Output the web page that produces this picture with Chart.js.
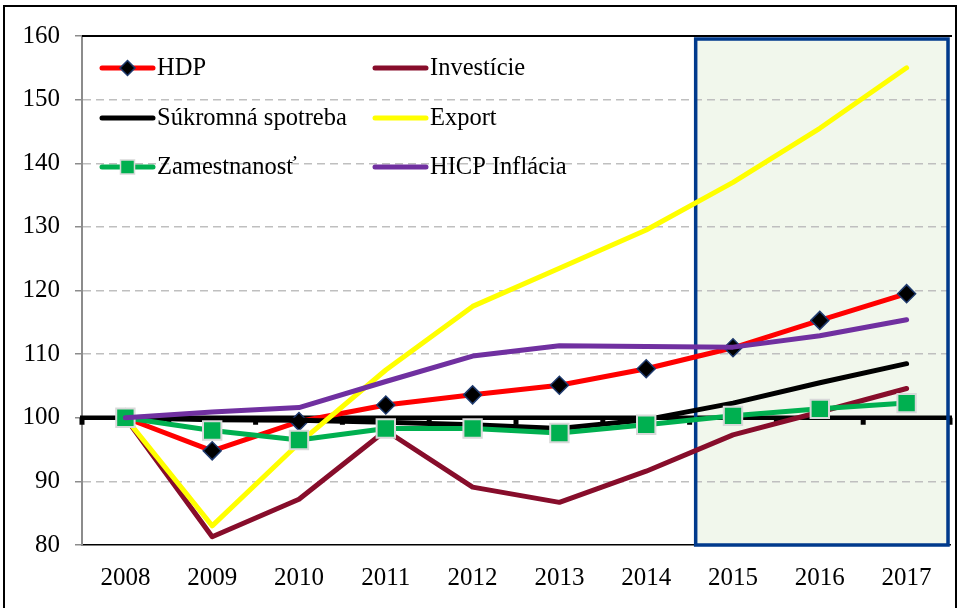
<!DOCTYPE html>
<html>
<head>
<meta charset="utf-8">
<script src="https://cdn.jsdelivr.net/npm/chart.js@4.4.1/dist/chart.umd.min.js"></script>
<style>
html, body { margin: 0; padding: 0; background: #fff; overflow: hidden; }
#wrap { position: relative; width: 959px; height: 608px; overflow: hidden; }
#frame { position: absolute; left: 3px; top: 5px; width: 954px; height: 700px; border: 2px solid #000; box-sizing: border-box; pointer-events: none; }
</style>
</head>
<body>
<div id="wrap">
  <canvas id="mycanvas" width="959" height="608"></canvas>
  <div id="frame"></div>
</div>
<script>
// data (index, 2008 = 100)
var years = ['2008', '2009', '2010', '2011', '2012', '2013', '2014', '2015', '2016', '2017'];
var hdp        = [100, 94.8, 99.4, 102.0, 103.6, 105.1, 107.7, 111.0, 115.3, 119.5];
var investicie = [100, 81.3, 87.2, 98.0, 89.1, 86.7, 91.6, 97.3, 100.9, 104.6];
var spotreba   = [100, 99.7, 99.6, 99.3, 98.9, 98.3, 99.7, 102.3, 105.5, 108.5];
var exportData = [100, 83.0, 96.0, 107.5, 117.5, 123.5, 129.5, 137.0, 145.5, 155.0];
var zamest     = [100, 98.0, 96.5, 98.3, 98.3, 97.6, 98.9, 100.3, 101.4, 102.3];
var hicp       = [100, 100.9, 101.6, 105.7, 109.7, 111.3, 111.2, 111.1, 112.9, 115.4];
var yTicks = [80, 90, 100, 110, 120, 130, 140, 150, 160];
var forecastFrom = 7; // 2015 onwards is shaded

var FONT = 'Liberation Serif';

function line(label, data, color, extra) {
    var ds = {
        label: label,
        data: data,
        borderColor: color,
        backgroundColor: color,
        borderWidth: 5,
        tension: 0,
        fill: false,
        pointRadius: 0,
        borderCapStyle: 'round',
        borderJoinStyle: 'round'
    };
    for (var k in extra) ds[k] = extra[k];
    return ds;
}

// later series sit on top (lower order = drawn later)
var datasets = [
    line('HDP', hdp, '#ff0000', { order: 6, pointStyle: 'rectRot', pointRadius: 9, pointBackgroundColor: '#000', pointBorderColor: '#1f3a6e', pointBorderWidth: 1.5 }),
    line('Investície', investicie, '#870d2b', { order: 5 }),
    line('Súkromná spotreba', spotreba, '#000000', { order: 4 }),
    line('Export', exportData, '#ffff00', { order: 3 }),
    line('Zamestnanosť', zamest, '#00b050', { order: 2, pointStyle: 'rect', pointRadius: 13, pointBackgroundColor: '#00b050', pointBorderColor: '#d9d9d9', pointBorderWidth: 2 }),
    line('HICP Inflácia', hicp, '#7030a0', { order: 1 })
];
// legend slots: [column, row]
var legendSlots = [[0, 0], [1, 0], [0, 1], [1, 1], [0, 2], [1, 2]];

function drawMarker(ctx, style, x, y, r, fill, stroke, bw) {
    ctx.save();
    ctx.beginPath();
    if (style === 'rectRot') {
        ctx.moveTo(x, y - r); ctx.lineTo(x + r, y); ctx.lineTo(x, y + r); ctx.lineTo(x - r, y);
        ctx.closePath();
    } else {
        ctx.rect(x - r, y - r, 2 * r, 2 * r);
    }
    ctx.fillStyle = fill; ctx.fill();
    ctx.lineWidth = bw; ctx.strokeStyle = stroke; ctx.stroke();
    ctx.restore();
}

var decor = {
    id: 'decor',
    afterLayout: function(chart) {
        // layout keeps ~15px on the right; stretch the plot to the frame
        var a = chart.chartArea, x = chart.scales.x;
        var target = chart.width - 9;
        if (a.right < target) {
            a.right = target;
            a.width = a.right - a.left;
            x.right = target;
            x.width = target - x.left;
            x.configure();
        }
    },
    beforeDraw: function(chart) {
        var ctx = chart.ctx, a = chart.chartArea, x = chart.scales.x;
        var left = x.getPixelForValue(forecastFrom - 0.43);
        ctx.save();
        ctx.fillStyle = '#f1f7ec';
        ctx.fillRect(left, a.top + 2, a.right - left, a.bottom - a.top - 2);
        ctx.restore();
    },
    beforeDatasetsDraw: function(chart) {
        var ctx = chart.ctx, a = chart.chartArea, x = chart.scales.x, y = chart.scales.y;
        ctx.save();
        // top border of plot area
        ctx.strokeStyle = '#000'; ctx.lineWidth = 2;
        ctx.beginPath(); ctx.moveTo(a.left, a.top); ctx.lineTo(a.right + 2, a.top); ctx.stroke();
        // horizontal axis crossing at 100
        var y100 = y.getPixelForValue(100);
        ctx.lineWidth = 4.5;
        ctx.beginPath(); ctx.moveTo(a.left - 2, y100); ctx.lineTo(a.right + 2, y100); ctx.stroke();
        ctx.fillStyle = '#000';
        for (var i = 0; i <= years.length; i++) {
            var px = x.getPixelForValue(i - 0.5);
            ctx.fillRect(px - 2.5, y100, 5, 7);
        }
        // forecast box outline
        var left = x.getPixelForValue(forecastFrom - 0.43);
        ctx.strokeStyle = '#003a8c'; ctx.lineWidth = 3.5;
        ctx.strokeRect(left, a.top + 3, a.right - 2 - left, a.bottom - a.top - 3);
        ctx.restore();
    },
    afterDraw: function(chart) {
        var ctx = chart.ctx;
        var colX = [102, 375], rowY = [68, 118, 167];
        ctx.save();
        ctx.font = '24.5px "Liberation Serif"';
        ctx.textBaseline = 'middle';
        ctx.fillStyle = '#000';
        chart.data.datasets.forEach(function(ds, i) {
            var s = legendSlots[i];
            var x0 = colX[s[0]], yy = rowY[s[1]];
            ctx.strokeStyle = ds.borderColor; ctx.lineWidth = 5; ctx.lineCap = 'round';
            ctx.beginPath(); ctx.moveTo(x0, yy); ctx.lineTo(x0 + 51, yy); ctx.stroke();
            if (ds.pointStyle === 'rectRot') drawMarker(ctx, 'rectRot', x0 + 25.5, yy, 7.5, ds.pointBackgroundColor, ds.pointBorderColor, 1.5);
            if (ds.pointStyle === 'rect') drawMarker(ctx, 'rect', x0 + 25.5, yy, 7, ds.pointBackgroundColor, ds.pointBorderColor, 1.5);
            ctx.fillStyle = '#000';
            ctx.fillText(ds.label, x0 + 55, yy + 1);
        });
        ctx.restore();
    }
};

var chart = new Chart(document.getElementById('mycanvas'), {
    type: 'line',
    data: { labels: years, datasets: datasets },
    plugins: [decor],
    options: {
        responsive: false,
        animation: false,
        layout: { padding: { left: 0, right: 3, top: 36, bottom: 0 } },
        plugins: { legend: { display: false }, tooltip: { enabled: false } },
        scales: {
            x: {
                offset: true,
                grid: { display: true, drawOnChartArea: false, drawTicks: true, tickLength: 18, tickColor: 'rgba(0,0,0,0)' },
                border: { display: true, color: '#000', width: 1.5 },
                ticks: { color: '#000', font: { family: FONT, size: 25 }, padding: 0, maxRotation: 0 },
                afterFit: function(s) { s.height = 63; s.paddingLeft = 0; s.paddingRight = 0; }
            },
            y: {
                min: 80,
                max: 160,
                afterBuildTicks: function(s) { s.ticks = yTicks.map(function(v) { return { value: v }; }); },
                ticks: { color: '#000', font: { family: FONT, size: 25 }, padding: 15 },
                grid: {
                    color: function(c) {
                        var v = c.tick ? c.tick.value : null;
                        return (v === 80 || v === 100 || v === 160) ? 'rgba(0,0,0,0)' : '#bfbfbf';
                    },
                    lineWidth: 1.5,
                    tickLength: 7,
                    tickColor: '#8c8c8c',
                    tickBorderDash: []
                },
                border: { display: true, color: '#8c8c8c', width: 2, dash: [8, 5] },
                afterFit: function(s) { s.width = 82; }
            }
        }
    }
});
</script>
</body>
</html>
